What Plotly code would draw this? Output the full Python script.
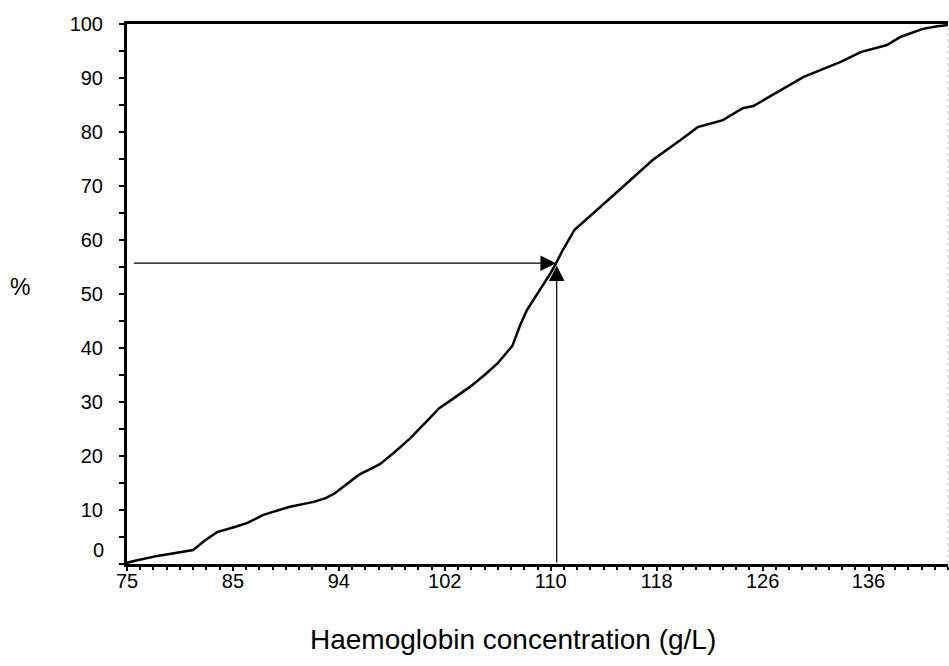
import plotly.graph_objects as go

# X axis is a category-position axis (one unit per haemoglobin category);
# every 8th category carries a label.
tick_labels = ["75", "85", "94", "102", "110", "118", "126", "136"]
n_categories = 62

# Cumulative percentage curve (x in category positions, y in %)
curve_x = [0.0, 0.6, 2.3, 5.0, 5.9, 6.8, 8.2, 9.1, 10.3, 12.3, 14.1, 15.0, 15.7,
           16.5, 17.5, 18.4, 19.1, 20.2, 21.4, 22.5, 23.6, 24.8, 25.9, 27.0, 28.0,
           29.1, 29.7, 30.2, 31.2, 32.0, 32.4, 32.9, 33.8, 35.0, 36.1, 37.2, 39.7,
           41.8, 43.1, 45.0, 46.5, 47.3, 49.1, 51.1, 53.9, 55.4, 57.4, 58.4, 60.1,
           61.2, 62.0]
curve_y = [0.2, 0.6, 1.5, 2.6, 4.4, 5.9, 6.9, 7.6, 9.1, 10.6, 11.5, 12.2, 13.1,
           14.6, 16.5, 17.6, 18.5, 20.7, 23.3, 26.1, 28.9, 30.9, 32.8, 35.0, 37.2,
           40.4, 44.3, 47.0, 50.7, 53.9, 55.7, 58.1, 61.9, 64.6, 66.9, 69.3, 74.8,
           78.5, 80.9, 82.2, 84.4, 84.8, 87.4, 90.2, 93.0, 94.8, 96.1, 97.6, 99.1,
           99.6, 99.8]

# Median marker (reading off the curve)
marker_x = 32.45
marker_y = 55.7

y_ticks = [0, 10, 20, 30, 40, 50, 60, 70, 80, 90, 100]

FONT = "Liberation Sans, Arial, sans-serif"

fig = go.Figure()
fig.add_trace(go.Scatter(x=curve_x, y=curve_y, mode="lines",
                         line=dict(color="black", width=2.5), showlegend=False,
                         hoverinfo="skip"))

# horizontal arrow from y axis to the curve
fig.add_annotation(x=marker_x - 0.05, y=marker_y, ax=0.4, ay=marker_y,
                   xref="x", yref="y", axref="x", ayref="y", text="",
                   showarrow=True, arrowhead=2, arrowsize=2.6, arrowwidth=1.2,
                   arrowcolor="black", standoff=0)
# vertical arrow from x axis to the curve
fig.add_annotation(x=marker_x, y=marker_y - 0.4, ax=marker_x, ay=0,
                   xref="x", yref="y", axref="x", ayref="y", text="",
                   showarrow=True, arrowhead=2, arrowsize=2.6, arrowwidth=1.2,
                   arrowcolor="black", standoff=0)

# "%" axis label, horizontal
fig.add_annotation(x=-0.130, y=0.513, xref="paper", yref="paper", text="%",
                   xanchor="center", yanchor="middle",
                   showarrow=False, font=dict(family=FONT, size=23, color="black"))
# the "0" tick label sits a little above the axis in the original
fig.add_annotation(x=-0.026, y=2.6, xref="paper", yref="y", text="0",
                   xanchor="right", yanchor="middle", showarrow=False,
                   font=dict(family=FONT, size=20, color="black"))
# x axis title (slightly left of the plot centre in the original)
fig.add_annotation(x=0.470, y=-0.1407, xref="paper", yref="paper",
                   xanchor="center", yanchor="middle",
                   text="Haemoglobin concentration (g/L)", showarrow=False,
                   font=dict(family=FONT, size=28, color="black"))

# faint right border
fig.add_shape(type="line", xref="paper", yref="paper", x0=1, x1=1, y0=0, y1=1,
              line=dict(color="#c8c8c8", width=1, dash="dot"))

fig.update_layout(
    width=949, height=666,
    margin=dict(l=127, r=1, t=24, b=102),
    plot_bgcolor="white", paper_bgcolor="white",
    font=dict(family=FONT, size=20, color="black"),
    xaxis=dict(
        range=[0, n_categories],
        tickmode="array",
        tickvals=[i * 8 for i in range(len(tick_labels))],
        ticktext=tick_labels,
        showgrid=False, zeroline=False,
        showline=True, linecolor="black", linewidth=3, mirror=True,
        ticks="outside", ticklen=4, tickwidth=2, tickcolor="black",
        minor=dict(dtick=1, tick0=0, ticks="outside", ticklen=3, tickwidth=2,
                   tickcolor="black", showgrid=False),
        tickfont=dict(family=FONT, size=20),
        ticklabelstandoff=-7,
    ),
    yaxis=dict(
        range=[0, 100],
        tickmode="array",
        tickvals=y_ticks,
        ticktext=[("" if v == 0 else str(v)) for v in y_ticks],
        showgrid=False, zeroline=False,
        showline=True, linecolor="black", linewidth=3,
        ticks="outside", ticklen=5, tickwidth=2, tickcolor="black",
        minor=dict(dtick=5, tick0=0, ticks="outside", ticklen=5, tickwidth=2,
                   tickcolor="black", showgrid=False),
        tickfont=dict(family=FONT, size=20),
        ticklabelstandoff=12,
    ),
)

fig.write_html("out.html",
               config={"displayModeBar": False},
               post_script="document.body.style.margin='0';"
                           "document.body.style.overflow='hidden';")
